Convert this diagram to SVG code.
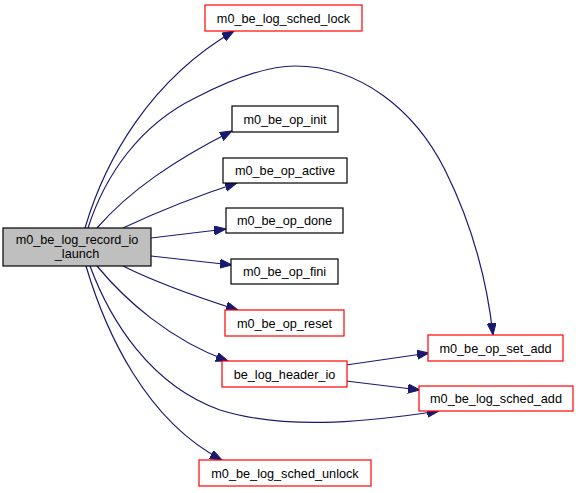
<svg xmlns="http://www.w3.org/2000/svg" width="579" height="493" viewBox="0 0 579 493">
<style>
.n rect{stroke-width:1.2}
.blk{fill:#ffffff;stroke:#000000}
.red{fill:#ffffff;stroke:#ff0000}
.main{fill:#bfbfbf;stroke:#000000}
text{font-family:"Liberation Sans",Arial,sans-serif;font-size:12.7px;fill:#000000;text-anchor:middle}
.e path{fill:none;stroke:#191970;stroke-width:1.2;marker-end:url(#ah)}
</style>
<defs>
<marker id="ah" markerUnits="userSpaceOnUse" markerWidth="13" markerHeight="10" refX="12" refY="4.5" orient="auto">
<path d="M0,0 L12,4.5 L0,9 z" fill="#191970" stroke="#191970" stroke-width="1"/>
</marker>
</defs>
<g id="edges" class="e">
<path d="M85,228 C105,160 150,80 234,31"/>
<path d="M88,228 C105,175 140,125 195,98 C230,80 265,66 295,66 C360,66 415,110 445,170 C475,230 488,290 493,335"/>
<path d="M97,228 C130,190 175,160 232,131"/>
<path d="M123,228 C155,213 200,195 237,183"/>
<path d="M151,238 L226,229"/>
<path d="M151,256 L232,265"/>
<path d="M123,266 C155,282 200,298 238,310"/>
<path d="M97,266 C125,300 170,340 228,361"/>
<path d="M90,266 C110,320 150,385 220,410 C290,432 380,420 439,411"/>
<path d="M86,266 C105,330 145,420 222,460"/>
<path d="M346,365 L429,353"/>
<path d="M346,381 L420,390"/>
</g>
<g id="n_main" class="n"><rect class="main" x="3" y="228" width="148" height="38"/><text x="77" y="244">m0_be_log_record_io</text><text x="77" y="258">_launch</text></g>
<g id="n_sched_lock" class="n"><rect class="red" x="205" y="5" width="157" height="26"/><text x="283.5" y="22.5">m0_be_log_sched_lock</text></g>
<g id="n_op_init" class="n"><rect class="blk" x="232" y="106" width="106" height="26"/><text x="285" y="123.5">m0_be_op_init</text></g>
<g id="n_op_active" class="n"><rect class="blk" x="223" y="158" width="124" height="25"/><text x="285" y="175">m0_be_op_active</text></g>
<g id="n_op_done" class="n"><rect class="blk" x="226" y="208" width="117" height="25"/><text x="284.5" y="225">m0_be_op_done</text></g>
<g id="n_op_fini" class="n"><rect class="blk" x="231" y="259" width="107" height="25"/><text x="284.5" y="276">m0_be_op_fini</text></g>
<g id="n_op_reset" class="n"><rect class="red" x="225" y="310" width="119" height="26"/><text x="284.5" y="327.5">m0_be_op_reset</text></g>
<g id="n_header_io" class="n"><rect class="red" x="222" y="361" width="125" height="26"/><text x="284.5" y="378.5">be_log_header_io</text></g>
<g id="n_sched_unlock" class="n"><rect class="red" x="199" y="460" width="172" height="26"/><text x="285" y="477.5">m0_be_log_sched_unlock</text></g>
<g id="n_op_set_add" class="n"><rect class="red" x="428" y="335" width="135" height="26"/><text x="495.5" y="352.5">m0_be_op_set_add</text></g>
<g id="n_sched_add" class="n"><rect class="red" x="419" y="386" width="154" height="25"/><text x="496" y="403">m0_be_log_sched_add</text></g>
</svg>
